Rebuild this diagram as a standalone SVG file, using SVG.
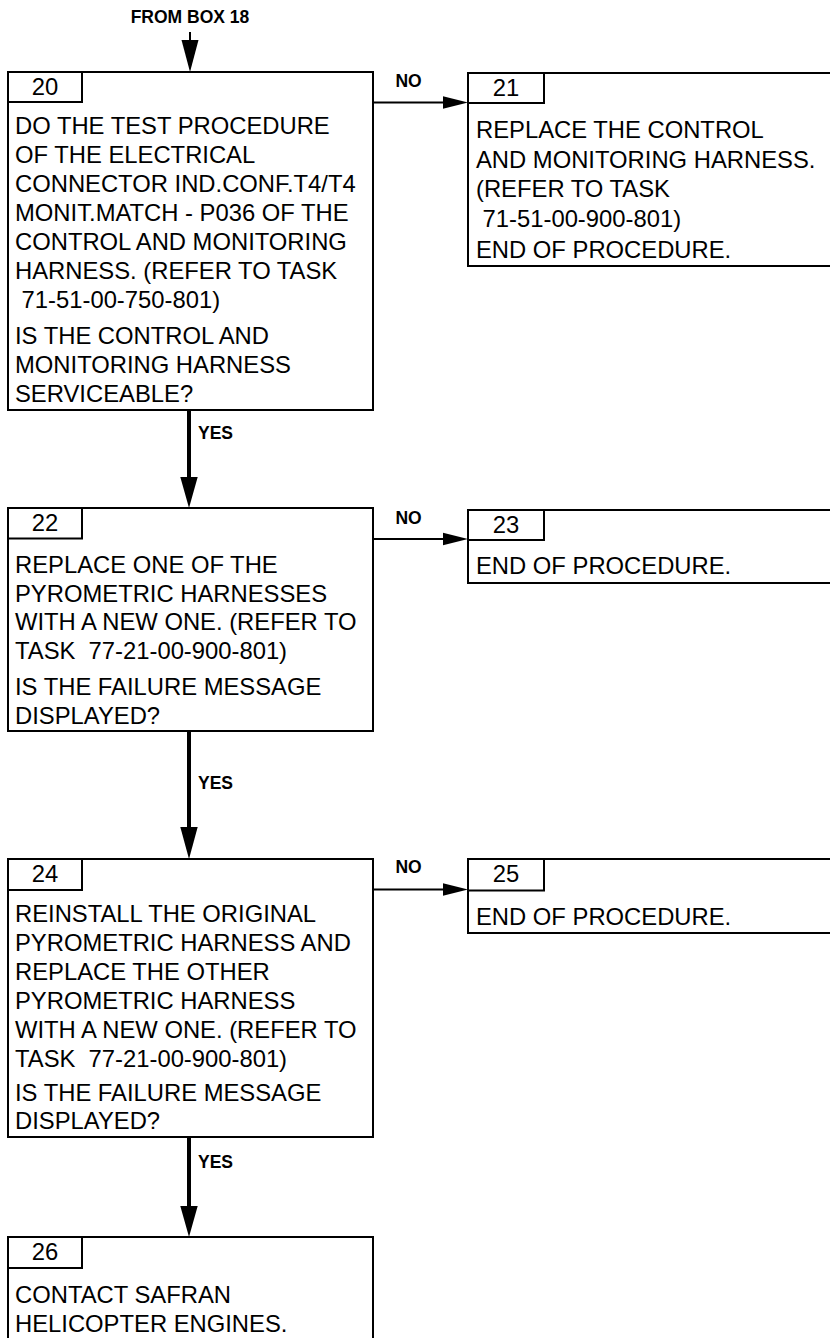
<svg xmlns="http://www.w3.org/2000/svg" width="830" height="1338" viewBox="0 0 830 1338">
<style>
  .box { fill: none; stroke: #000; stroke-width: 2; }
  .t { font-family: "Liberation Sans", Arial, sans-serif; font-size: 23.8px; fill: #000; white-space: pre; }
  .num { font-family: "Liberation Sans", Arial, sans-serif; font-size: 23.8px; fill: #000; text-anchor: middle; }
  .lbl { font-family: "Liberation Sans", Arial, sans-serif; font-size: 17.5px; font-weight: bold; fill: #000; }
  .thin { stroke: #000; stroke-width: 2; fill: none; }
  .thick { stroke: #000; stroke-width: 4; fill: none; }
  .head { fill: #000; stroke: none; }
</style>
<rect width="830" height="1338" fill="#fff"/>

<g id="connectors">
  <text class="lbl" x="190" y="23" text-anchor="middle">FROM BOX 18</text>
  <line class="thin" x1="190" y1="32" x2="190" y2="45"/>
  <polygon class="head" points="181.5,40 198.5,40 190,72"/>

  <line class="thin" x1="373" y1="102.5" x2="446" y2="102.5"/>
  <polygon class="head" points="443,96.2 443,108.8 468,102.5"/>
  <text class="lbl" x="408.5" y="87" text-anchor="middle">NO</text>

  <line class="thick" x1="189" y1="410" x2="189" y2="480"/>
  <polygon class="head" points="180.3,477 197.7,477 189,508"/>
  <text class="lbl" x="198" y="439">YES</text>

  <line class="thin" x1="373" y1="539" x2="446" y2="539"/>
  <polygon class="head" points="443,532.7 443,545.3 468,539"/>
  <text class="lbl" x="408.5" y="524" text-anchor="middle">NO</text>

  <line class="thick" x1="189" y1="731" x2="189" y2="830"/>
  <polygon class="head" points="180.3,827 197.7,827 189,859"/>
  <text class="lbl" x="198" y="789">YES</text>

  <line class="thin" x1="373" y1="889.5" x2="446" y2="889.5"/>
  <polygon class="head" points="443,883.2 443,895.8 468,889.5"/>
  <text class="lbl" x="408.5" y="873" text-anchor="middle">NO</text>

  <line class="thick" x1="189" y1="1137" x2="189" y2="1210"/>
  <polygon class="head" points="180.3,1206 197.7,1206 189,1237"/>
  <text class="lbl" x="198" y="1168">YES</text>
</g>

<g id="box20">
  <rect class="box" x="8" y="72" width="365" height="338"/>
  <rect class="box" x="8" y="72" width="74" height="30"/>
  <text class="num" x="45" y="95">20</text>
  <text class="t" x="15" y="133.5">DO THE TEST PROCEDURE</text>
  <text class="t" x="15" y="162.5">OF THE ELECTRICAL</text>
  <text class="t" x="15" y="191.5">CONNECTOR IND.CONF.T4/T4</text>
  <text class="t" x="15" y="220.5">MONIT.MATCH - P036 OF THE</text>
  <text class="t" x="15" y="249.5">CONTROL AND MONITORING</text>
  <text class="t" x="15" y="278.5">HARNESS. (REFER TO TASK</text>
  <text class="t" x="15" y="307.5"> 71-51-00-750-801)</text>
  <text class="t" x="15" y="343.5">IS THE CONTROL AND</text>
  <text class="t" x="15" y="372.5">MONITORING HARNESS</text>
  <text class="t" x="15" y="401.5">SERVICEABLE?</text>
</g>

<g id="box21">
  <path class="box" d="M831,73 H468 V266 H831"/>
  <rect class="box" x="468" y="73" width="76" height="30"/>
  <text class="num" x="506" y="96">21</text>
  <text class="t" x="476" y="138">REPLACE THE CONTROL</text>
  <text class="t" x="476" y="167.5">AND MONITORING HARNESS.</text>
  <text class="t" x="476" y="197">(REFER TO TASK</text>
  <text class="t" x="476" y="226.5"> 71-51-00-900-801)</text>
  <text class="t" x="476" y="257.5">END OF PROCEDURE.</text>
</g>

<g id="box22">
  <rect class="box" x="8" y="508" width="365" height="223"/>
  <rect class="box" x="8" y="508" width="74" height="30.5"/>
  <text class="num" x="45" y="531">22</text>
  <text class="t" x="15" y="572.5">REPLACE ONE OF THE</text>
  <text class="t" x="15" y="601.5">PYROMETRIC HARNESSES</text>
  <text class="t" x="15" y="630">WITH A NEW ONE. (REFER TO</text>
  <text class="t" x="15" y="658.5">TASK  77-21-00-900-801)</text>
  <text class="t" x="15" y="695">IS THE FAILURE MESSAGE</text>
  <text class="t" x="15" y="724">DISPLAYED?</text>
</g>

<g id="box23">
  <path class="box" d="M831,510 H468 V583 H831"/>
  <rect class="box" x="468" y="510" width="76" height="30"/>
  <text class="num" x="506" y="533">23</text>
  <text class="t" x="476" y="574">END OF PROCEDURE.</text>
</g>

<g id="box24">
  <rect class="box" x="8" y="859" width="365" height="278"/>
  <rect class="box" x="8" y="859" width="74" height="31"/>
  <text class="num" x="45" y="882">24</text>
  <text class="t" x="15" y="921.5">REINSTALL THE ORIGINAL</text>
  <text class="t" x="15" y="950.5">PYROMETRIC HARNESS AND</text>
  <text class="t" x="15" y="979.5">REPLACE THE OTHER</text>
  <text class="t" x="15" y="1008.5">PYROMETRIC HARNESS</text>
  <text class="t" x="15" y="1037.5">WITH A NEW ONE. (REFER TO</text>
  <text class="t" x="15" y="1066.5">TASK  77-21-00-900-801)</text>
  <text class="t" x="15" y="1100.5">IS THE FAILURE MESSAGE</text>
  <text class="t" x="15" y="1129">DISPLAYED?</text>
</g>

<g id="box25">
  <path class="box" d="M831,859 H468 V933 H831"/>
  <rect class="box" x="468" y="859" width="76" height="31.5"/>
  <text class="num" x="506" y="882">25</text>
  <text class="t" x="476" y="925">END OF PROCEDURE.</text>
</g>

<g id="box26">
  <path class="box" d="M8,1340 V1237 H373 V1340"/>
  <rect class="box" x="8" y="1237" width="74" height="31"/>
  <text class="num" x="45" y="1260">26</text>
  <text class="t" x="15" y="1303">CONTACT SAFRAN</text>
  <text class="t" x="15" y="1332">HELICOPTER ENGINES.</text>
</g>
</svg>
